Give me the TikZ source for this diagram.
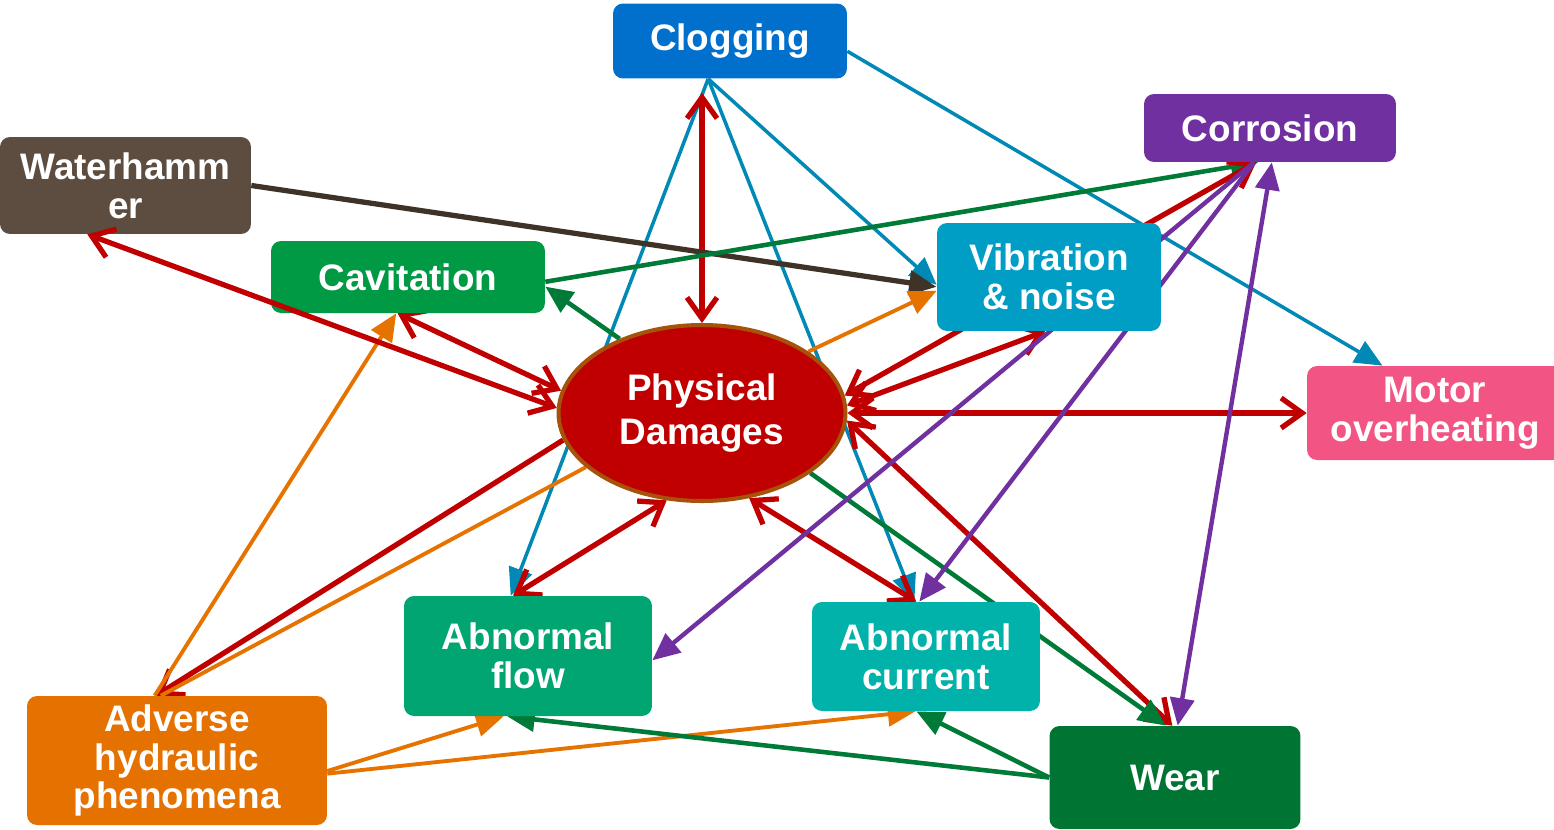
\documentclass[tikz,border=0pt]{standalone}
\usepackage{fontspec}
\setmainfont{Liberation Sans}
\usetikzlibrary{arrows.meta,shapes.geometric,backgrounds}
\definecolor{cclog}{RGB}{0,112,204}
\definecolor{ccorr}{RGB}{112,48,160}
\definecolor{cwater}{RGB}{92,77,64}
\definecolor{ccav}{RGB}{0,153,68}
\definecolor{cvib}{RGB}{0,158,196}
\definecolor{cphys}{RGB}{192,0,0}
\definecolor{cphysb}{RGB}{166,82,10}
\definecolor{cmotor}{RGB}{242,85,132}
\definecolor{cflow}{RGB}{0,165,114}
\definecolor{ccurr}{RGB}{0,178,169}
\definecolor{cadv}{RGB}{229,114,0}
\definecolor{cwear}{RGB}{0,117,51}
\definecolor{lblue}{RGB}{0,137,180}
\definecolor{lgreen}{RGB}{0,122,55}
\definecolor{lbrown}{RGB}{63,51,40}
\definecolor{lorange}{RGB}{230,115,0}
\tikzset{
    box/.style={rectangle, rounded corners=.2cm, inner sep=0pt, text=white, align=center},
    barb/.tip={Straight Barb[length=.42cm,width=.6cm]},
    tri/.tip={Triangle[length=.55cm,width=.48cm]},
    rd/.style={draw=cphys, line width=3pt, barb-barb},
    bl/.style={draw=lblue, line width=2pt, -tri},
    gr/.style={draw=lgreen, line width=2.6pt, -tri},
    br/.style={draw=lbrown, line width=3pt, -tri},
    og/.style={draw=lorange, line width=2.2pt, -tri},
    pu/.style={draw=ccorr, line width=2.5pt, -tri}
}
\begin{document}
\begin{tikzpicture}[x=.02cm, y=-.02cm, line join=round, font=\bfseries\fontsize{21}{22}\selectfont]
    \useasboundingbox (0,0) rectangle (1554,829);
    \node (clog) at (730,41) [box, fill=cclog, minimum width=4.68cm, minimum height=1.5cm]{Clogging};
    \node (corr) at (1270,128) [box, fill=ccorr, minimum width=5.04cm, minimum height=1.36cm]{Corrosion};
    \node (water) at (125.5,185.5) [box, fill=cwater, minimum width=5.02cm, minimum height=1.94cm]{Waterhamm\\er};
    \node (cav) at (408,277) [box, fill=ccav, minimum width=5.48cm, minimum height=1.44cm]{Cavitation};
    \node (vib) at (1049,277) [box, fill=cvib, minimum width=4.48cm, minimum height=2.16cm]{Vibration\\\& noise};
    \node (phys) at (702,413) [ellipse, inner sep=0pt, fill=cphys, draw=cphysb, line width=2.3pt,
        minimum width=5.74cm, minimum height=3.52cm, text=white, align=center]{Physical\\[3pt]Damages};
    \node (motor) at (1435,413) [box, fill=cmotor, minimum width=5.12cm, minimum height=1.88cm]{Motor\\overheating};
    \node (flow) at (528,656) [box, fill=cflow, minimum width=4.96cm, minimum height=2.4cm]{Abnormal\\flow};
    \node (curr) at (926,656.5) [box, fill=ccurr, minimum width=4.56cm, minimum height=2.18cm]{Abnormal\\current};
    \node (adv) at (177,760.5) [box, fill=cadv, minimum width=6cm, minimum height=2.58cm]{Adverse\\hydraulic\\phenomena};
    \node (wear) at (1175,777.5) [box, fill=cwear, minimum width=5.02cm, minimum height=2.06cm]{Wear};
    \draw[rd] (water.-128) -- (phys.178);
    \begin{scope}[on background layer]
        \draw[bl] (clog.-120) -- (flow.106);
        \draw[bl] (clog.-120) -- (curr.102);
        \draw[bl] (clog.-120) -- (vib.184);
        \draw[bl] (clog.-5) -- (motor.138);
        \draw[rd, shorten >=.28cm] (phys.north) -- (phys.north |- clog.south);
        \draw[br] (water.east) -- (vib.185);
        \draw[gr] (cav.-2) -- (corr.-109);
        \draw[gr] (phys.138) -- (cav.-4);
        \draw[rd] (cav.-106) -- (phys.171);
        \draw[og] (phys.30) -- (vib.187);
        \draw[rd] (phys.3) -- (vib.-94);
        \draw[rd] (phys.7) -- (corr.-112);
        \draw[rd] (phys.east) -- (motor.west);
        \draw[rd] (phys.-3) -- (wear.93);
        \draw[gr] (phys.-29) -- (wear.100);
        \draw[rd] (phys.-61) -- (curr.100);
        \draw[rd] (phys.-112) -- (flow.104);
        \draw[rd, -barb] (phys.-169) -- (adv.108);
        \draw[og, -] (adv.104) -- (phys.-155);
        \draw[og] (adv.109) -- (cav.-108);
        \draw[og] (adv.-4) -- (flow.-112);
        \draw[og] (adv.-5) -- (curr.-101);
        \draw[gr] (wear.180) -- (flow.-109);
        \draw[gr] (wear.180) -- (curr.-100);
        \draw[pu] (corr.-115) -- (flow.-2);
        \draw[pu] (corr.-115) -- (curr.97);
        \draw[pu, tri-tri] (corr.-87) -- (wear.87);
    \end{scope}
\end{tikzpicture}
\end{document}
